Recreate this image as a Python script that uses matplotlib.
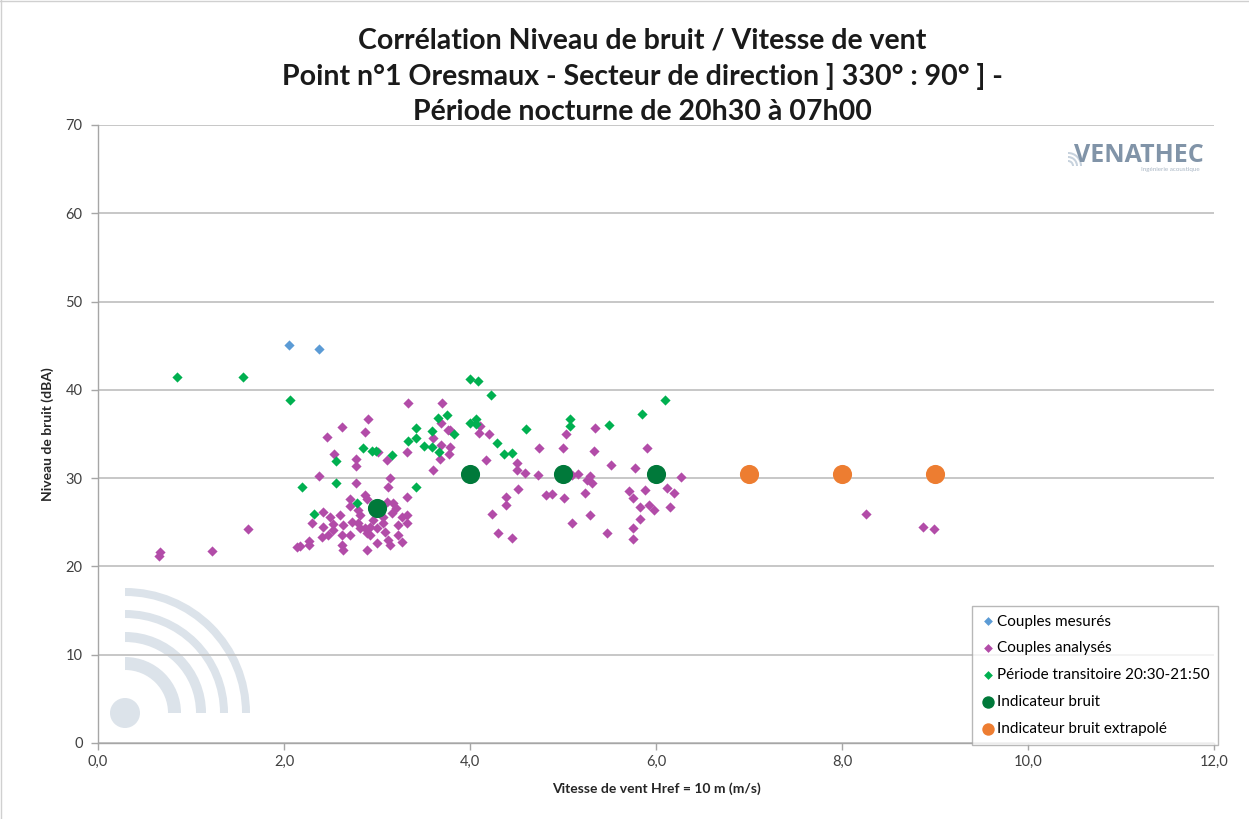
import matplotlib
matplotlib.use("Agg")
import matplotlib.pyplot as plt
from matplotlib.patches import Wedge, Circle
from matplotlib.ticker import FuncFormatter

# ---------------- data ----------------
mesures_x = [2.05, 2.38]
mesures_y = [45.1, 44.6]

analyses_x = [0.66, 0.67, 1.23, 1.61, 2.14, 2.17, 2.27, 2.27, 2.30, 2.42, 2.42,
              2.38, 2.54, 2.46, 2.62, 2.90, 2.87, 3.33, 3.70,
              2.77, 2.77, 3.01, 3.11, 3.32, 3.60, 3.69, 3.68, 3.60, 3.76,
              2.77, 3.14, 3.12, 3.32,
              2.71, 2.71, 2.87, 2.89, 2.80, 2.82, 3.11, 3.17, 3.20, 3.16, 3.27, 3.06, 3.06,
              2.49, 2.60, 2.53, 2.53, 2.47, 2.41, 2.63, 2.62, 2.62, 2.63, 2.73, 2.71,
              2.82, 2.87, 2.92, 2.89, 2.92, 2.80, 2.96, 3.00, 3.09, 3.12, 3.23, 3.23,
              3.14, 3.00, 2.89, 3.32, 3.32, 3.27,
              3.69, 3.78, 3.78, 3.77, 4.11, 4.10, 4.20, 4.17, 4.50, 4.50,
              4.59, 4.74, 4.73, 4.52, 4.39, 4.39, 4.24, 4.30, 4.45,
              5.00, 5.03, 4.82, 4.88, 5.01, 5.10, 5.10, 5.16,
              5.26, 5.29, 5.31, 5.24, 5.29, 5.34, 5.33, 5.52, 5.47,
              5.77, 5.90, 5.71, 5.75, 5.83, 5.83, 5.75, 5.75, 5.88, 5.92, 5.98,
              6.12, 6.19, 6.15, 6.27, 8.26, 8.87, 8.99]
analyses_y = [21.2, 21.6, 21.7, 24.2, 22.2, 22.3, 22.9, 22.4, 24.9, 26.2, 24.5,
              30.2, 32.7, 34.7, 35.8, 36.7, 35.2, 38.5, 38.5,
              32.2, 31.4, 33.0, 32.0, 33.0, 34.5, 33.8, 32.2, 30.9, 35.4,
              29.5, 30.0, 29.0, 27.9,
              27.6, 26.8, 28.1, 27.6, 26.4, 25.8, 27.3, 27.2, 26.6, 26.0, 25.6, 25.6, 24.9,
              25.6, 25.8, 24.8, 24.1, 23.6, 23.3, 24.7, 23.6, 22.4, 21.9, 25.0, 23.6,
              24.3, 24.3, 24.5, 23.8, 23.6, 24.9, 25.3, 24.3, 23.9, 23.0, 24.7, 23.6,
              22.4, 22.6, 21.9, 25.8, 24.9, 22.8,
              36.2, 35.5, 33.5, 32.7, 35.9, 35.1, 35.0, 32.0, 31.7, 30.9,
              30.6, 33.4, 30.3, 28.8, 27.9, 27.0, 25.9, 23.8, 23.2,
              33.4, 35.0, 28.1, 28.2, 27.7, 24.9, 30.4, 30.5,
              29.8, 30.2, 29.4, 28.3, 25.8, 35.7, 33.1, 31.5, 23.8,
              31.1, 33.4, 28.5, 27.7, 26.7, 25.4, 24.3, 23.1, 28.7, 27.0, 26.4,
              28.9, 28.3, 26.7, 30.1, 25.9, 24.5, 24.2]

transit_x = [0.85, 1.56, 2.06, 2.19, 2.32, 2.56, 2.56, 2.78, 2.85, 2.95, 2.99,
             3.16, 3.33, 3.42, 3.42, 3.42, 3.51, 3.59, 3.59, 3.66, 3.67, 3.75,
             3.83, 4.00, 4.09, 4.23, 4.00, 4.06, 4.06, 4.29, 4.37, 4.45, 4.60,
             5.08, 5.08, 5.49, 5.85, 6.10]
transit_y = [41.4, 41.4, 38.9, 29.0, 25.9, 31.9, 29.5, 27.2, 33.4, 33.1, 33.1,
             32.6, 34.2, 35.7, 34.5, 29.0, 33.6, 35.3, 33.5, 36.8, 33.0, 37.1,
             35.0, 41.2, 41.0, 39.4, 36.2, 36.7, 36.1, 34.0, 32.7, 32.8, 35.6,
             36.7, 35.9, 36.0, 37.3, 38.8]

indic_x = [3, 4, 5, 6]
indic_y = [26.6, 30.5, 30.5, 30.5]

extrap_x = [7, 8, 9]
extrap_y = [30.5, 30.5, 30.5]

title_lines = ["Corrélation Niveau de bruit / Vitesse de vent",
               "Point n°1 Oresmaux - Secteur de direction ] 330° : 90° ] -",
               "Période nocturne de 20h30 à 07h00"]
xlabel = "Vitesse de vent Href = 10 m (m/s)"
ylabel = "Niveau de bruit (dBA)"
legend_labels = ["Couples mesurés", "Couples analysés",
                 "Période transitoire 20:30-21:50", "Indicateur bruit",
                 "Indicateur bruit extrapolé"]

FONT = ["Lato", "DejaVu Sans"]
plt.rcParams['font.family'] = FONT

W, H = 1249, 819
fig = plt.figure(figsize=(W / 100, H / 100), dpi=100)

# background overlay (watermarks) in pixel coordinates
bg = fig.add_axes([0, 0, 1, 1], zorder=0)
bg.set_xlim(0, W)
bg.set_ylim(H, 0)
bg.axis("off")
wm = "#DCE3EA"
cx, cy = 125, 713
bg.add_patch(Circle((cx, cy), 15, color=wm, lw=0))
for r_out, r_in in [(125, 117), (103, 95), (81, 71), (56, 43)]:
    bg.add_patch(Wedge((cx, cy), r_out, 270, 360, width=r_out - r_in, color=wm, lw=0))
# VENATHEC logo
bg.text(1204, 156, "VENATHEC", ha="right", va="center", fontsize=18,
        fontweight="bold", color="#8194A8", family=["Open Sans", "DejaVu Sans"])
bg.text(1200, 170, "Ingénierie acoustique", ha="right", va="center", fontsize=4.5,
        color="#A9B6C4")
lx, ly = 1068, 166
for r in (6, 10, 14):
    bg.add_patch(Wedge((lx, ly), r, 270, 360, width=2, color="#C7D2DD", lw=0))
# chart border
bg.plot([1, 1], [0, H], color="#D0D0D0", lw=1)
bg.plot([0, W], [1, 1], color="#D0D0D0", lw=1)

ax = fig.add_axes([98 / W, 1 - 743 / H, (1214 - 98) / W, (743 - 125) / H], zorder=1)
ax.patch.set_alpha(0)

ax.set_xlim(0, 12)
ax.set_ylim(0, 70)
ax.set_xticks(range(0, 13, 2))
ax.set_yticks(range(0, 71, 10))
ax.xaxis.set_major_formatter(FuncFormatter(lambda v, p: f"{v:.1f}".replace(".", ",")))
ax.grid(axis="y", color="#BEBEBE", lw=1.2, zorder=0)
ax.set_axisbelow(True)
for s in ("top", "right"):
    ax.spines[s].set_visible(False)
for s in ("left", "bottom"):
    ax.spines[s].set_color("#A6A6A6")
    ax.spines[s].set_linewidth(1.0)
ax.tick_params(axis="both", colors="#A6A6A6", labelcolor="#404040", labelsize=10.5,
               length=5, width=1, direction="out")
ax.tick_params(axis="y", pad=6)

ms_d = 27
ax.scatter(mesures_x, mesures_y, marker="D", s=ms_d, color="#5B9BD5", lw=0, zorder=3,
           label=legend_labels[0])
ax.scatter(analyses_x, analyses_y, marker="D", s=ms_d, color="#B24CA8", lw=0, zorder=3,
           label=legend_labels[1])
ax.scatter(transit_x, transit_y, marker="D", s=ms_d, color="#00B050", lw=0, zorder=4,
           label=legend_labels[2])
ax.scatter(indic_x, indic_y, marker="o", s=190, color="#00793A", lw=0, zorder=5,
           label=legend_labels[3])
ax.scatter(extrap_x, extrap_y, marker="o", s=190, color="#ED7D31", lw=0, zorder=5,
           label=legend_labels[4])

ax.set_xlabel(xlabel, fontsize=10, fontweight="bold", color="#262626", labelpad=10)
ax.set_ylabel(ylabel, fontsize=10, fontweight="bold", color="#262626", labelpad=8)

for i, (line, yy) in enumerate(zip(title_lines, (40, 76, 112))):
    fig.text(642 / W, 1 - yy / H, line, ha="center", va="center", fontsize=20.5,
             fontweight="bold", color="#1A1A1A")

handles, labels = ax.get_legend_handles_labels()
leg = ax.legend(handles, labels, loc="lower right", bbox_to_anchor=(1.004, -0.003),
                fontsize=11, frameon=True, fancybox=False, edgecolor="#A6A6A6",
                borderpad=0.55, labelspacing=0.85, handletextpad=0.1,
                handlelength=1.0, markerscale=1.0, scatterpoints=1, borderaxespad=0)
leg.get_frame().set_linewidth(1.0)
for h in leg.legend_handles[:3]:
    h.set_sizes([20])
for h in leg.legend_handles[3:]:
    h.set_sizes([80])

fig.savefig("out.png", dpi=100)
